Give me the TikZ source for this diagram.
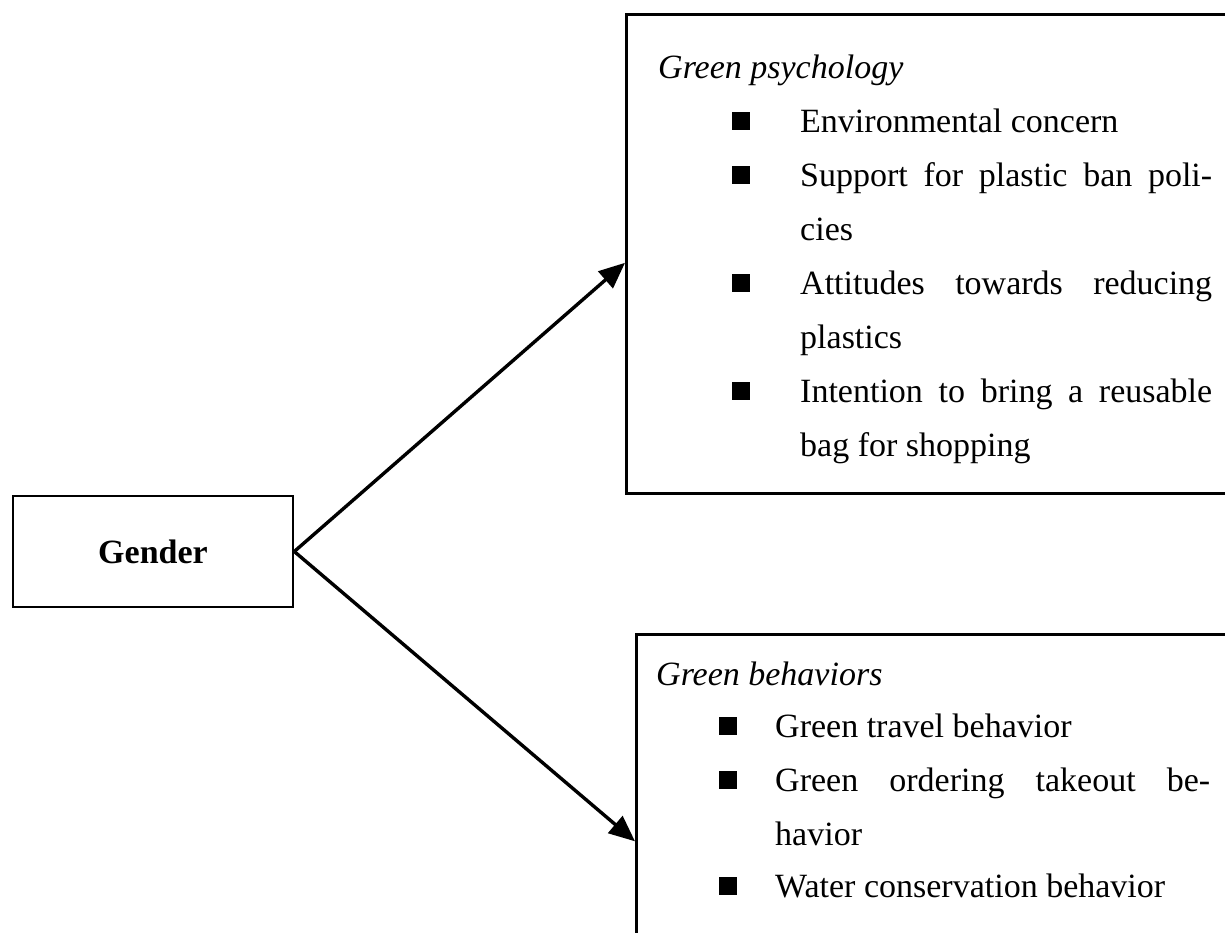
\documentclass[tikz,border=0pt]{standalone}
\usepackage{fontspec}
\setmainfont{Liberation Serif}
\usepackage{tikz}
\usetikzlibrary{arrows.meta}
\tikzset{box/.style = {draw, line width=2.6pt, inner sep=0}}
\tikzset{conn/.style = {line width=3.4pt, -{Triangle[length=26pt,width=22pt]}}}
\tikzset{sq/.style = {fill, inner sep=0, minimum size=18pt}}
\tikzset{item/.style = {anchor=north west, inner sep=0, align=justify, font=\fontsize{34}{54}\selectfont}}
\tikzset{head/.style = {anchor=base west, inner sep=0, font=\fontsize{34}{54}\selectfont\itshape}}

\begin{document}
\begin{tikzpicture}[x=1pt, y=-1pt]
    \clip (0, 0) rectangle (1225, 932);

    \node [box, minimum width=280pt, minimum height=111pt,
      font=\fontsize{34}{40}\selectfont\bfseries] (gender) at (153, 551.5) {Gender};

    \node [box, anchor=north west, minimum width=700pt, minimum height=479pt] (psych) at (625, 13) {};
    \node [head] (psychhead) at (658, 78) {Green psychology};
    \node [sq] (p1) at (741, 121) {};
    \node [item, text width=412pt] (p1text) at (800, 94.2) {\strut Environmental concern};
    \node [sq] (p2) at (741, 175) {};
    \node [item, text width=412pt] (p2text) at (800, 148.2) {\strut Support for plastic ban poli-\linebreak cies};
    \node [sq] (p3) at (741, 283) {};
    \node [item, text width=412pt] (p3text) at (800, 256.2) {\strut Attitudes towards reducing\linebreak plastics};
    \node [sq] (p4) at (741, 391) {};
    \node [item, text width=412pt] (p4text) at (800, 364.2) {\strut Intention to bring a reusable\linebreak bag for shopping};

    \node [box, anchor=north west, minimum width=700pt, minimum height=414pt] (behav) at (635, 633) {};
    \node [head] (behavhead) at (656, 685) {Green behaviors};
    \node [sq] (g1) at (728, 726) {};
    \node [item, text width=435pt] (g1text) at (775, 699.2) {\strut Green travel behavior};
    \node [sq] (g2) at (728, 780) {};
    \node [item, text width=435pt] (g2text) at (775, 753.2) {\strut Green ordering takeout be-\linebreak havior};
    \node [sq] (g3) at (728, 886) {};
    \node [item, text width=435pt] (g3text) at (775, 859.2) {\strut Water conservation behavior};

    \draw [conn] (gender.east) -- ([yshift=-9pt]psych.west);
    \draw [conn] (gender.east) -- (behav.west);
  \end{tikzpicture}
\end{document}
